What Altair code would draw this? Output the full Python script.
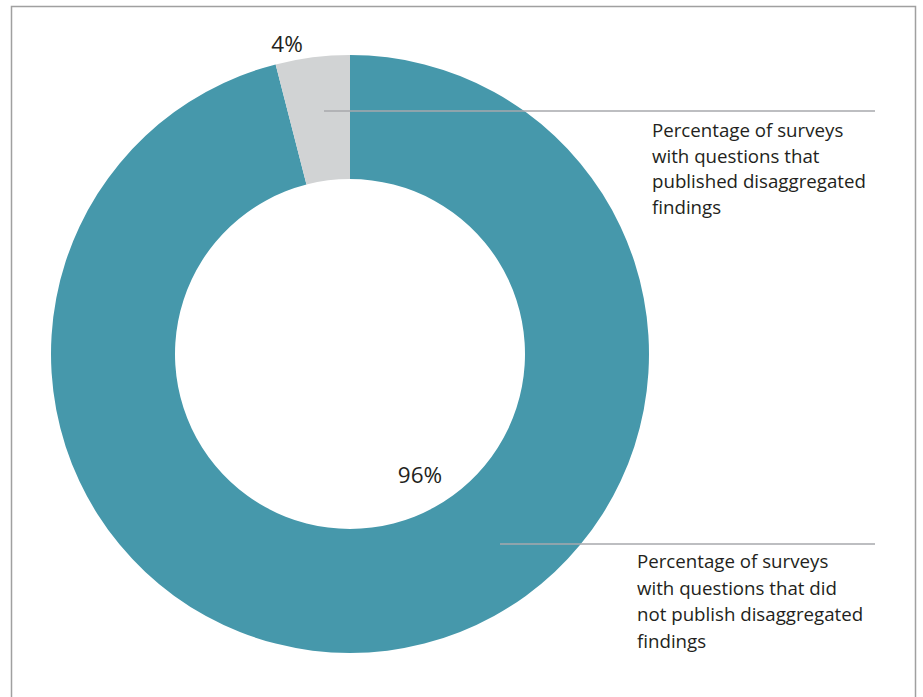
import altair as alt
import pandas as pd

# ---- data ----
categories = [
    "did not publish disaggregated findings",
    "published disaggregated findings",
]
shares = [96, 4]
pct_labels = ["96%", "4%"]
colors = ["#4698AB", "#D1D3D4"]
descriptions = [
    ["Percentage of surveys", "with questions that did", "not publish disaggregated", "findings"],
    ["Percentage of surveys", "with questions that", "published disaggregated", "findings"],
]

df = pd.DataFrame({"category": categories, "share": shares, "label": pct_labels, "order": [0, 1]})

W, H = 923, 697
CX, CY = 350, 354
FONT = "Open Sans"
TEXT_COLOR = "#231F20"
LINE_COLOR = "#A7A9AC"

base = alt.Chart(df)

donut = base.mark_arc(x=CX, y=CY, innerRadius=175, outerRadius=299, stroke=None).encode(
    theta=alt.Theta("share:Q", stack=True),
    order=alt.Order("order:Q"),
    color=alt.Color("category:N", scale=alt.Scale(domain=categories, range=colors), legend=None),
)

lbl96 = base.transform_filter(alt.datum.order == 0).mark_text(
    x=420, y=483, align="center", baseline="alphabetic", font=FONT, fontSize=22.5, color=TEXT_COLOR
).encode(text="label:N")

lbl4 = base.transform_filter(alt.datum.order == 1).mark_text(
    x=287, y=52, align="center", baseline="alphabetic", font=FONT, fontSize=22.5, color=TEXT_COLOR
).encode(text="label:N")

rule_top = alt.Chart(df).transform_filter(alt.datum.order == 1).mark_rule(
    color=LINE_COLOR, strokeWidth=1.5
).encode(x=alt.value(324), x2=alt.value(875), y=alt.value(111))

rule_bot = alt.Chart(df).transform_filter(alt.datum.order == 0).mark_rule(
    color=LINE_COLOR, strokeWidth=1.5
).encode(x=alt.value(500), x2=alt.value(875), y=alt.value(544))

desc_df = pd.DataFrame({"which": [0, 1]})
desc_top = alt.Chart(desc_df).transform_filter(alt.datum.which == 1).mark_text(
    x=652, y=137, align="left", baseline="alphabetic", font=FONT, fontSize=18.7,
    lineHeight=25.5, color=TEXT_COLOR, text=descriptions[1]
).encode(opacity=alt.value(1))

desc_bot = alt.Chart(desc_df).transform_filter(alt.datum.which == 0).mark_text(
    x=637, y=568, align="left", baseline="alphabetic", font=FONT, fontSize=18.7,
    lineHeight=26.5, color=TEXT_COLOR, text=descriptions[0]
).encode(opacity=alt.value(1))

frame = alt.Chart(desc_df).transform_filter(alt.datum.which == 0).mark_rect(
    fill=None, stroke="#A0A0A0", strokeWidth=1.5
).encode(x=alt.value(11.5), x2=alt.value(915.5), y=alt.value(6.5), y2=alt.value(720))

chart = alt.layer(frame, donut, rule_top, rule_bot, lbl96, lbl4, desc_top, desc_bot).properties(
    width=W, height=H, autosize=alt.AutoSizeParams(type="none"), padding=0, background="white"
).configure_view(stroke=None)

chart.save("out.html", embed_options={"renderer": "svg", "actions": False})
